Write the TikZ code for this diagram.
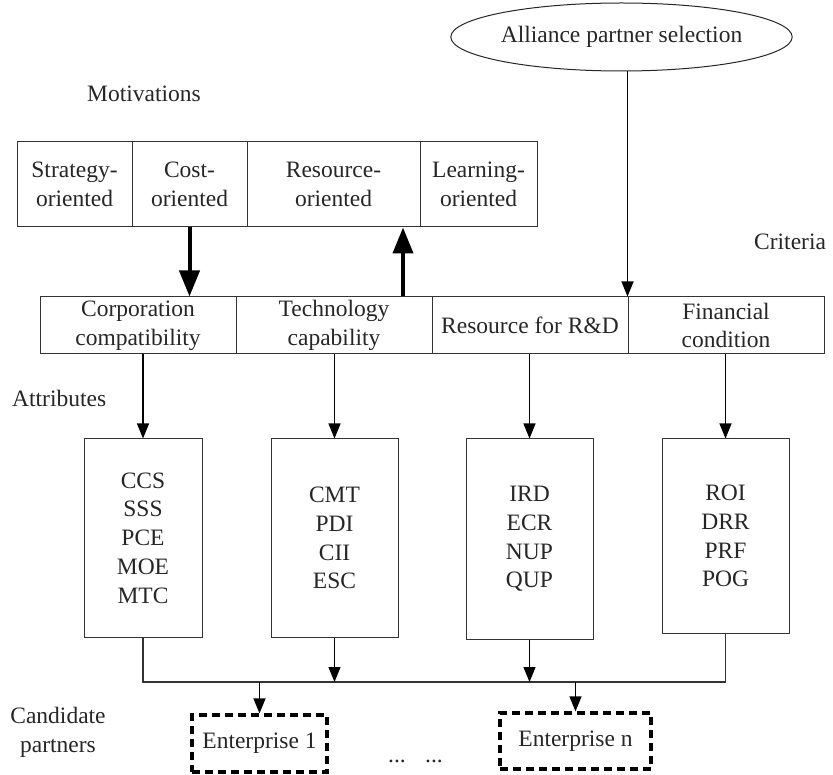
\documentclass[tikz,border=0pt]{standalone}
\usepackage{fontspec}
\setmainfont{Liberation Serif}
\usetikzlibrary{arrows.meta,shapes.geometric}
\begin{document}
\begin{tikzpicture}[x=1pt,y=-1pt,
  every node/.style={font=\fontsize{23.5}{28.7}\selectfont, text=black!85},
  cell/.style={draw=black!80, line width=1pt, inner sep=0pt, align=center},
  lab/.style={inner sep=0pt, align=center},
  thinarrow/.style={draw=black, line width=1.2pt, -{Triangle[length=15pt,width=12pt]}},
  thickarrow/.style={draw=black, line width=4pt, -{Triangle[length=26pt,width=20pt]}},
  plain/.style={draw=black!80, line width=1.2pt},
  ent/.style={draw=black, line width=3.2pt, dash pattern=on 8pt off 5pt, inner sep=0pt}
]
\useasboundingbox (0,0) rectangle (833,775);

% top ellipse
\node[ellipse, draw=black!85, line width=1pt, minimum width=313pt, minimum height=68pt, inner sep=0pt] (sel) at (621.5,37) {Alliance partner selection};

% side labels
\node[lab, anchor=base west] (motl) at (87,102) {Motivations};
\node[lab, anchor=base west] (crit) at (754,250) {Criteria};
\node[lab, anchor=base west] (attr) at (12,407) {Attributes};
\node[lab, anchor=base] (cand) at (58,752) {Candidate\\partners};

% motivations
\node[cell, minimum width=115pt, minimum height=85pt] (m1) at (74.5,184.5) {Strategy-\\oriented};
\node[cell, minimum width=115pt, minimum height=85pt] (m2) at (189.5,184.5) {Cost-\\oriented};
\node[cell, minimum width=173pt, minimum height=85pt] (m3) at (333.5,184.5) {Resource-\\oriented};
\node[cell, minimum width=117pt, minimum height=85pt] (m4) at (478.5,184.5) {Learning-\\oriented};

% criteria
\node[cell, minimum width=196pt, minimum height=57pt] (c1) at (138,325.5) {Corporation\\compatibility};
\node[cell, minimum width=196pt, minimum height=57pt] (c2) at (334,325.5) {Technology\\capability};
\node[cell, minimum width=196pt, minimum height=57pt] (c3) at (530,325.5) {Resource for R\&D};
\node[cell, minimum width=196pt, minimum height=57pt] (c4) at (726,325.5) {Financial\\condition};

% attributes
\node[cell, minimum width=118pt, minimum height=198pt] (a1) at (143,538) {CCS\\SSS\\PCE\\MOE\\MTC};
\node[cell, minimum width=127pt, minimum height=198pt] (a2) at (334.5,538) {CMT\\PDI\\CII\\ESC};
\node[cell, minimum width=127pt, minimum height=200pt] (a3) at (529.5,539) {IRD\\ECR\\NUP\\QUP};
\node[cell, minimum width=127pt, minimum height=194pt] (a4) at (725.5,536) {ROI\\DRR\\PRF\\POG};

% candidates
\node[ent, minimum width=135pt, minimum height=57pt] (e1) at (259.5,743.5) {Enterprise 1};
\node[ent, minimum width=151pt, minimum height=56pt] (en) at (575.5,741) {Enterprise n};
\node[lab, anchor=base] (d1) at (397,762) {...};
\node[lab, anchor=base] (d2) at (434,762) {...};

% coordinates
\coordinate (upx) at (403,0);
\coordinate (hl) at (0,682);

% connectors
\draw[thinarrow] (sel.south -| c4.north west) -- (c4.north west);
\draw[thickarrow] (m2.south) -- (m2.south |- c1.north);
\draw[thickarrow] (c2.north -| upx) -- (m3.south -| upx);

\draw[thinarrow] (c1.south -| a1.north) -- (a1.north);
\draw[thinarrow] (c2.south -| a2.north) -- (a2.north);
\draw[thinarrow] (c3.south -| a3.north) -- (a3.north);
\draw[thinarrow] (c4.south -| a4.north) -- (a4.north);

\draw[plain] (a1.south) -- (a1.south |- hl) -- (a4.south |- hl) -- (a4.south);
\draw[thinarrow] (a2.south) -- (a2.south |- hl);
\draw[thinarrow] (a3.south) -- (a3.south |- hl);
\draw[thinarrow] (e1.north |- hl) -- (e1.north);
\draw[thinarrow] (en.north |- hl) -- (en.north);
\end{tikzpicture}
\end{document}
